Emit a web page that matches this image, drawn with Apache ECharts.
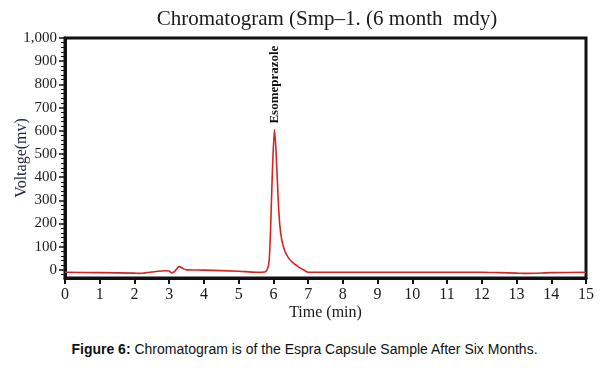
<!DOCTYPE html>
<html><head><meta charset="utf-8">
<script src="https://cdn.jsdelivr.net/npm/echarts@6/dist/echarts.min.js"></script>
<style>
html,body{margin:0;padding:0;background:#fff;}
#c{width:609px;height:330px;}
#cap{position:absolute;left:0;top:341px;width:609px;text-align:center;font-family:"Liberation Sans",Arial,sans-serif;font-size:14px;color:#111;}
</style></head>
<body>
<div id="c"></div>
<div id="cap"><b>Figure 6:</b> Chromatogram is of the Espra Capsule Sample After Six Months.</div>
<script>
const times = [0, 1, 2, 2.15, 2.5, 2.9, 3.0, 3.07, 3.15, 3.29, 3.4, 3.5, 4, 5, 5.5, 5.75, 5.83, 5.88, 5.92, 5.97, 6.03, 6.08, 6.13, 6.18, 6.24, 6.32, 6.42, 6.55, 6.75, 6.9, 7.0, 8, 10, 12, 12.5, 13, 13.3, 14, 15];
const volts = [-10, -12, -14, -15, -9, -4, -5, -13, -8, 14, 6, 0, -1, -6, -10, -9, 5, 45, 180, 420, 605, 500, 330, 200, 130, 85, 55, 32, 10, -3, -10, -10, -10, -10, -12, -14, -15, -12, -10];
const yMajor = [0,100,200,300,400,500,600,700,800,900,1000];
const yMinor = [-20,20,40,60,80,120,140,160,180,220,240,260,280,320,340,360,380,420,440,460,480,520,540,560,580,620,640,660,680,720,740,760,780,820,840,860,880,920,940,960,980];
const peakName = 'Esomeprazole';
const peakTime = 6.03, peakVolt = 605;

const serif = 'Liberation Serif';
const chart = echarts.init(document.getElementById('c'));
chart.setOption({
  animation:false,
  textStyle:{fontFamily:serif},
  title:{text:'Chromatogram (Smp\u20131. (6 month  mdy)', left:322, textAlign:'center', top:4,
    textStyle:{fontFamily:serif, fontSize:21, fontWeight:'normal', color:'#1a1a1a'}},
  grid:{left:65, right:23, top:38, bottom:52, show:true, borderColor:'#111', borderWidth:3,
    containLabel:false, outerBoundsMode:'none'},
  xAxis:{type:'value', min:0, max:15, interval:1,
    name:'Time (min)', nameLocation:'middle', nameGap:27, nameMoveOverlap:false,
    nameTextStyle:{fontFamily:serif, fontSize:16, color:'#1a1a1a'},
    axisLine:{onZero:false, lineStyle:{color:'#111', width:3}},
    axisTick:{length:6, lineStyle:{color:'#111', width:2}},
    axisLabel:{fontFamily:serif, fontSize:16, color:'#1a1a1a', margin:9},
    splitLine:{show:false}},
  yAxis:[{type:'value', min:-35, max:1000, position:'left',
    name:'Voltage(mv)', nameLocation:'middle', nameGap:35, nameMoveOverlap:false,
    nameTextStyle:{fontFamily:serif, fontSize:16, color:'#1f2540'},
    axisLine:{onZero:false, lineStyle:{color:'#111', width:3}},
    axisTick:{length:6, customValues:yMajor, lineStyle:{color:'#111', width:1.5}},
    axisLabel:{customValues:yMajor, fontFamily:serif, fontSize:15, color:'#1a1a1a', margin:8,
      formatter:v=>v.toLocaleString('en-US')},
    splitLine:{show:false}},
   {type:'value', min:-35, max:1000, position:'left', offset:0,
    axisLine:{show:false, onZero:false},
    axisTick:{length:4, customValues:yMinor, lineStyle:{color:'#111', width:1}},
    axisLabel:{show:false}, splitLine:{show:false}}],
  series:[{type:'line', data:times.map((t,i)=>[t,volts[i]]), smooth:0.25, showSymbol:false,
    lineStyle:{color:'#d42424', width:1.6}, z:1,
    markPoint:{symbol:'circle', symbolSize:0,
      data:[{coord:[peakTime, peakVolt], name:peakName}],
      label:{show:true, formatter:peakName, position:'top', distance:6, rotate:90,
        align:'left', verticalAlign:'middle',
        fontFamily:serif, fontSize:13, fontWeight:'bold', color:'#111'}}}]
});
</script>
</body></html>
